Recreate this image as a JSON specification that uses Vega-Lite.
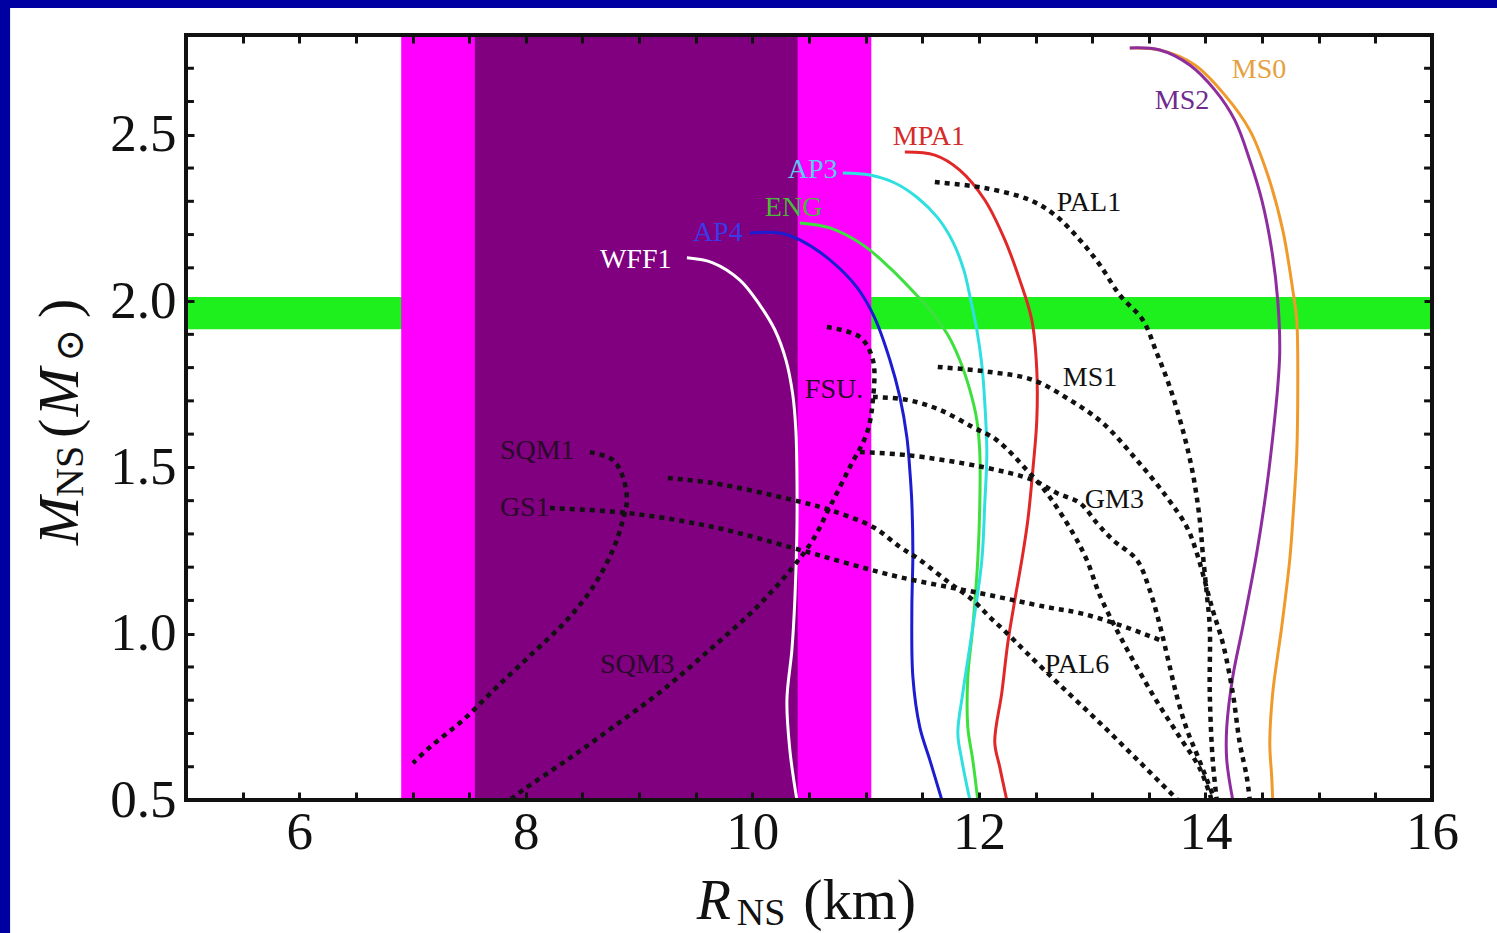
{
  "$schema": "https://vega.github.io/schema/vega-lite/v6.json",
  "width": 1246,
  "height": 765,
  "autosize": {"type": "none"},
  "padding": {"left": 186, "top": 35, "right": 65, "bottom": 133},
  "background": "#ffffff",
  "config": {
    "view": {"stroke": null},
    "axis": {"domain": false, "ticks": false, "grid": true, "gridColor": "#111111", "gridWidth": 3, "gridOpacity": 1, "labelFont": "Liberation Serif", "labelFontSize": 53, "labelColor": "#111111", "labelOverlap": false, "labelFlush": false, "labelBound": false},
    "text": {"font": "Liberation Serif"}
  },
  "resolve": {"scale": {"color": "independent"}},
  "datasets": {
    "border": [{"r1": 3.0, "r2": 3.447, "m1": 0.0, "m2": 3.0}, {"r1": 3.0, "r2": 16.8, "m1": 2.881, "m2": 3.0}],
    "frame": [{"r1": 5, "r2": 16, "m1": 0.5, "m2": 2.8}],
    "yminor": [{"m":0.6},{"m":0.7},{"m":0.8},{"m":0.9},{"m":1.1},{"m":1.2},{"m":1.3},{"m":1.4},{"m":1.6},{"m":1.7},{"m":1.8},{"m":1.9},{"m":2.1},{"m":2.2},{"m":2.3},{"m":2.4},{"m":2.6},{"m":2.7}],
    "massband": [{"lo": 1.915, "hi": 2.012}],
    "bands": [{"band": "outer", "lo": 6.9, "hi": 11.05}, {"band": "inner", "lo": 7.55, "hi": 10.4}],
    "curves": [
      {"eos":"WFF1","kind":"solid","i":0,"r":9.422,"m":2.130},{"eos":"WFF1","kind":"solid","i":1,"r":9.651,"m":2.115},{"eos":"WFF1","kind":"solid","i":2,"r":9.890,"m":2.063},{"eos":"WFF1","kind":"solid","i":3,"r":10.066,"m":1.988},{"eos":"WFF1","kind":"solid","i":4,"r":10.199,"m":1.913},{"eos":"WFF1","kind":"solid","i":5,"r":10.296,"m":1.823},{"eos":"WFF1","kind":"solid","i":6,"r":10.357,"m":1.718},{"eos":"WFF1","kind":"solid","i":7,"r":10.384,"m":1.612},{"eos":"WFF1","kind":"solid","i":8,"r":10.393,"m":1.492},{"eos":"WFF1","kind":"solid","i":9,"r":10.393,"m":1.303},{"eos":"WFF1","kind":"solid","i":10,"r":10.375,"m":1.101},{"eos":"WFF1","kind":"solid","i":11,"r":10.349,"m":0.951},{"eos":"WFF1","kind":"solid","i":12,"r":10.305,"m":0.801},{"eos":"WFF1","kind":"solid","i":13,"r":10.331,"m":0.650},{"eos":"WFF1","kind":"solid","i":14,"r":10.393,"m":0.5},
      {"eos":"AP4","kind":"solid","i":0,"r":9.978,"m":2.205},{"eos":"AP4","kind":"solid","i":1,"r":10.243,"m":2.205},{"eos":"AP4","kind":"solid","i":2,"r":10.419,"m":2.184},{"eos":"AP4","kind":"solid","i":3,"r":10.684,"m":2.124},{"eos":"AP4","kind":"solid","i":4,"r":10.922,"m":2.042},{"eos":"AP4","kind":"solid","i":5,"r":11.081,"m":1.949},{"eos":"AP4","kind":"solid","i":6,"r":11.214,"m":1.823},{"eos":"AP4","kind":"solid","i":7,"r":11.302,"m":1.712},{"eos":"AP4","kind":"solid","i":8,"r":11.364,"m":1.591},{"eos":"AP4","kind":"solid","i":9,"r":11.390,"m":1.492},{"eos":"AP4","kind":"solid","i":10,"r":11.408,"m":1.393},{"eos":"AP4","kind":"solid","i":11,"r":11.417,"m":1.243},{"eos":"AP4","kind":"solid","i":12,"r":11.408,"m":1.071},{"eos":"AP4","kind":"solid","i":13,"r":11.417,"m":0.870},{"eos":"AP4","kind":"solid","i":14,"r":11.478,"m":0.719},{"eos":"AP4","kind":"solid","i":15,"r":11.567,"m":0.620},{"eos":"AP4","kind":"solid","i":16,"r":11.673,"m":0.5},
      {"eos":"ENG","kind":"solid","i":0,"r":10.419,"m":2.235},{"eos":"ENG","kind":"solid","i":1,"r":10.684,"m":2.220},{"eos":"ENG","kind":"solid","i":2,"r":10.975,"m":2.169},{"eos":"ENG","kind":"solid","i":3,"r":11.214,"m":2.100},{"eos":"ENG","kind":"solid","i":4,"r":11.408,"m":2.033},{"eos":"ENG","kind":"solid","i":5,"r":11.584,"m":1.967},{"eos":"ENG","kind":"solid","i":6,"r":11.726,"m":1.898},{"eos":"ENG","kind":"solid","i":7,"r":11.831,"m":1.823},{"eos":"ENG","kind":"solid","i":8,"r":11.920,"m":1.733},{"eos":"ENG","kind":"solid","i":9,"r":11.982,"m":1.642},{"eos":"ENG","kind":"solid","i":10,"r":12.008,"m":1.543},{"eos":"ENG","kind":"solid","i":11,"r":12.008,"m":1.393},{"eos":"ENG","kind":"solid","i":12,"r":11.990,"m":1.222},{"eos":"ENG","kind":"solid","i":13,"r":11.946,"m":1.020},{"eos":"ENG","kind":"solid","i":14,"r":11.902,"m":0.870},{"eos":"ENG","kind":"solid","i":15,"r":11.902,"m":0.719},{"eos":"ENG","kind":"solid","i":16,"r":11.946,"m":0.620},{"eos":"ENG","kind":"solid","i":17,"r":11.990,"m":0.5},
      {"eos":"AP3","kind":"solid","i":0,"r":10.799,"m":2.385},{"eos":"AP3","kind":"solid","i":1,"r":11.037,"m":2.379},{"eos":"AP3","kind":"solid","i":2,"r":11.258,"m":2.355},{"eos":"AP3","kind":"solid","i":3,"r":11.461,"m":2.310},{"eos":"AP3","kind":"solid","i":4,"r":11.637,"m":2.250},{"eos":"AP3","kind":"solid","i":5,"r":11.770,"m":2.178},{"eos":"AP3","kind":"solid","i":6,"r":11.867,"m":2.093},{"eos":"AP3","kind":"solid","i":7,"r":11.928,"m":2.003},{"eos":"AP3","kind":"solid","i":8,"r":11.982,"m":1.913},{"eos":"AP3","kind":"solid","i":9,"r":12.026,"m":1.808},{"eos":"AP3","kind":"solid","i":10,"r":12.052,"m":1.694},{"eos":"AP3","kind":"solid","i":11,"r":12.070,"m":1.543},{"eos":"AP3","kind":"solid","i":12,"r":12.052,"m":1.393},{"eos":"AP3","kind":"solid","i":13,"r":12.026,"m":1.222},{"eos":"AP3","kind":"solid","i":14,"r":11.946,"m":1.020},{"eos":"AP3","kind":"solid","i":15,"r":11.858,"m":0.822},{"eos":"AP3","kind":"solid","i":16,"r":11.814,"m":0.701},{"eos":"AP3","kind":"solid","i":17,"r":11.849,"m":0.620},{"eos":"AP3","kind":"solid","i":18,"r":11.920,"m":0.5},
      {"eos":"MPA1","kind":"solid","i":0,"r":11.346,"m":2.448},{"eos":"MPA1","kind":"solid","i":1,"r":11.611,"m":2.439},{"eos":"MPA1","kind":"solid","i":2,"r":11.831,"m":2.394},{"eos":"MPA1","kind":"solid","i":3,"r":12.052,"m":2.304},{"eos":"MPA1","kind":"solid","i":4,"r":12.229,"m":2.184},{"eos":"MPA1","kind":"solid","i":5,"r":12.361,"m":2.063},{"eos":"MPA1","kind":"solid","i":6,"r":12.467,"m":1.943},{"eos":"MPA1","kind":"solid","i":7,"r":12.511,"m":1.793},{"eos":"MPA1","kind":"solid","i":8,"r":12.511,"m":1.642},{"eos":"MPA1","kind":"solid","i":9,"r":12.476,"m":1.492},{"eos":"MPA1","kind":"solid","i":10,"r":12.432,"m":1.342},{"eos":"MPA1","kind":"solid","i":11,"r":12.379,"m":1.222},{"eos":"MPA1","kind":"solid","i":12,"r":12.317,"m":1.101},{"eos":"MPA1","kind":"solid","i":13,"r":12.255,"m":0.972},{"eos":"MPA1","kind":"solid","i":14,"r":12.202,"m":0.822},{"eos":"MPA1","kind":"solid","i":15,"r":12.140,"m":0.674},{"eos":"MPA1","kind":"solid","i":16,"r":12.184,"m":0.599},{"eos":"MPA1","kind":"solid","i":17,"r":12.246,"m":0.5},
      {"eos":"MS0","kind":"solid","i":0,"r":13.332,"m":2.761},{"eos":"MS0","kind":"solid","i":1,"r":13.597,"m":2.755},{"eos":"MS0","kind":"solid","i":2,"r":13.906,"m":2.710},{"eos":"MS0","kind":"solid","i":3,"r":14.170,"m":2.620},{"eos":"MS0","kind":"solid","i":4,"r":14.391,"m":2.514},{"eos":"MS0","kind":"solid","i":5,"r":14.550,"m":2.379},{"eos":"MS0","kind":"solid","i":6,"r":14.682,"m":2.214},{"eos":"MS0","kind":"solid","i":7,"r":14.771,"m":2.033},{"eos":"MS0","kind":"solid","i":8,"r":14.806,"m":1.943},{"eos":"MS0","kind":"solid","i":9,"r":14.815,"m":1.742},{"eos":"MS0","kind":"solid","i":10,"r":14.806,"m":1.543},{"eos":"MS0","kind":"solid","i":11,"r":14.771,"m":1.342},{"eos":"MS0","kind":"solid","i":12,"r":14.744,"m":1.222},{"eos":"MS0","kind":"solid","i":13,"r":14.673,"m":1.020},{"eos":"MS0","kind":"solid","i":14,"r":14.594,"m":0.822},{"eos":"MS0","kind":"solid","i":15,"r":14.568,"m":0.671},{"eos":"MS0","kind":"solid","i":16,"r":14.585,"m":0.569},{"eos":"MS0","kind":"solid","i":17,"r":14.594,"m":0.5},
      {"eos":"MS2","kind":"solid","i":0,"r":13.332,"m":2.761},{"eos":"MS2","kind":"solid","i":1,"r":13.597,"m":2.755},{"eos":"MS2","kind":"solid","i":2,"r":13.861,"m":2.710},{"eos":"MS2","kind":"solid","i":3,"r":14.082,"m":2.635},{"eos":"MS2","kind":"solid","i":4,"r":14.259,"m":2.544},{"eos":"MS2","kind":"solid","i":5,"r":14.391,"m":2.424},{"eos":"MS2","kind":"solid","i":6,"r":14.497,"m":2.304},{"eos":"MS2","kind":"solid","i":7,"r":14.585,"m":2.154},{"eos":"MS2","kind":"solid","i":8,"r":14.638,"m":2.003},{"eos":"MS2","kind":"solid","i":9,"r":14.656,"m":1.853},{"eos":"MS2","kind":"solid","i":10,"r":14.638,"m":1.742},{"eos":"MS2","kind":"solid","i":11,"r":14.594,"m":1.591},{"eos":"MS2","kind":"solid","i":12,"r":14.541,"m":1.441},{"eos":"MS2","kind":"solid","i":13,"r":14.453,"m":1.243},{"eos":"MS2","kind":"solid","i":14,"r":14.329,"m":1.020},{"eos":"MS2","kind":"solid","i":15,"r":14.241,"m":0.870},{"eos":"MS2","kind":"solid","i":16,"r":14.188,"m":0.719},{"eos":"MS2","kind":"solid","i":17,"r":14.188,"m":0.620},{"eos":"MS2","kind":"solid","i":18,"r":14.241,"m":0.5},
      {"eos":"PAL1","kind":"dotted","i":0,"r":11.611,"m":2.358},{"eos":"PAL1","kind":"dotted","i":1,"r":12.052,"m":2.340},{"eos":"PAL1","kind":"dotted","i":2,"r":12.449,"m":2.304},{"eos":"PAL1","kind":"dotted","i":3,"r":12.670,"m":2.259},{"eos":"PAL1","kind":"dotted","i":4,"r":12.891,"m":2.184},{"eos":"PAL1","kind":"dotted","i":5,"r":13.067,"m":2.109},{"eos":"PAL1","kind":"dotted","i":6,"r":13.244,"m":2.018},{"eos":"PAL1","kind":"dotted","i":7,"r":13.447,"m":1.943},{"eos":"PAL1","kind":"dotted","i":8,"r":13.570,"m":1.844},{"eos":"PAL1","kind":"dotted","i":9,"r":13.685,"m":1.742},{"eos":"PAL1","kind":"dotted","i":10,"r":13.800,"m":1.612},{"eos":"PAL1","kind":"dotted","i":11,"r":13.888,"m":1.483},{"eos":"PAL1","kind":"dotted","i":12,"r":13.950,"m":1.342},{"eos":"PAL1","kind":"dotted","i":13,"r":13.976,"m":1.243},{"eos":"PAL1","kind":"dotted","i":14,"r":14.011,"m":1.122},{"eos":"PAL1","kind":"dotted","i":15,"r":14.038,"m":1.020},{"eos":"PAL1","kind":"dotted","i":16,"r":14.038,"m":0.822},{"eos":"PAL1","kind":"dotted","i":17,"r":14.064,"m":0.620},{"eos":"PAL1","kind":"dotted","i":18,"r":14.100,"m":0.5},
      {"eos":"MS1","kind":"dotted","i":0,"r":11.637,"m":1.802},{"eos":"MS1","kind":"dotted","i":1,"r":12.096,"m":1.787},{"eos":"MS1","kind":"dotted","i":2,"r":12.476,"m":1.763},{"eos":"MS1","kind":"dotted","i":3,"r":12.802,"m":1.703},{"eos":"MS1","kind":"dotted","i":4,"r":13.094,"m":1.633},{"eos":"MS1","kind":"dotted","i":5,"r":13.394,"m":1.522},{"eos":"MS1","kind":"dotted","i":6,"r":13.658,"m":1.411},{"eos":"MS1","kind":"dotted","i":7,"r":13.835,"m":1.321},{"eos":"MS1","kind":"dotted","i":8,"r":13.923,"m":1.243},{"eos":"MS1","kind":"dotted","i":9,"r":14.064,"m":1.071},{"eos":"MS1","kind":"dotted","i":10,"r":14.153,"m":0.972},{"eos":"MS1","kind":"dotted","i":11,"r":14.241,"m":0.822},{"eos":"MS1","kind":"dotted","i":12,"r":14.303,"m":0.671},{"eos":"MS1","kind":"dotted","i":13,"r":14.365,"m":0.569},{"eos":"MS1","kind":"dotted","i":14,"r":14.391,"m":0.5},
      {"eos":"FSU","kind":"dotted","i":0,"r":11.064,"m":1.712},{"eos":"FSU","kind":"dotted","i":1,"r":11.364,"m":1.703},{"eos":"FSU","kind":"dotted","i":2,"r":11.655,"m":1.673},{"eos":"FSU","kind":"dotted","i":3,"r":11.946,"m":1.621},{"eos":"FSU","kind":"dotted","i":4,"r":12.158,"m":1.582},{"eos":"FSU","kind":"dotted","i":5,"r":12.423,"m":1.492},{"eos":"FSU","kind":"dotted","i":6,"r":12.599,"m":1.423},{"eos":"FSU","kind":"dotted","i":7,"r":12.829,"m":1.303},{"eos":"FSU","kind":"dotted","i":8,"r":12.952,"m":1.222},{"eos":"FSU","kind":"dotted","i":9,"r":13.067,"m":1.116},{"eos":"FSU","kind":"dotted","i":10,"r":13.217,"m":1.011},{"eos":"FSU","kind":"dotted","i":11,"r":13.394,"m":0.900},{"eos":"FSU","kind":"dotted","i":12,"r":13.579,"m":0.792},{"eos":"FSU","kind":"dotted","i":13,"r":13.773,"m":0.689},{"eos":"FSU","kind":"dotted","i":14,"r":13.950,"m":0.595},{"eos":"FSU","kind":"dotted","i":15,"r":14.055,"m":0.5},
      {"eos":"GM3","kind":"dotted","i":0,"r":10.949,"m":1.546},{"eos":"GM3","kind":"dotted","i":1,"r":11.364,"m":1.537},{"eos":"GM3","kind":"dotted","i":2,"r":12.034,"m":1.501},{"eos":"GM3","kind":"dotted","i":3,"r":12.476,"m":1.462},{"eos":"GM3","kind":"dotted","i":4,"r":12.688,"m":1.423},{"eos":"GM3","kind":"dotted","i":5,"r":12.891,"m":1.393},{"eos":"GM3","kind":"dotted","i":6,"r":13.041,"m":1.333},{"eos":"GM3","kind":"dotted","i":7,"r":13.182,"m":1.282},{"eos":"GM3","kind":"dotted","i":8,"r":13.394,"m":1.222},{"eos":"GM3","kind":"dotted","i":9,"r":13.508,"m":1.131},{"eos":"GM3","kind":"dotted","i":10,"r":13.597,"m":1.026},{"eos":"GM3","kind":"dotted","i":11,"r":13.671,"m":0.921},{"eos":"GM3","kind":"dotted","i":12,"r":13.749,"m":0.810},{"eos":"GM3","kind":"dotted","i":13,"r":13.838,"m":0.710},{"eos":"GM3","kind":"dotted","i":14,"r":13.938,"m":0.626},{"eos":"GM3","kind":"dotted","i":15,"r":14.082,"m":0.5},
      {"eos":"GS1","kind":"dotted","i":0,"r":8.213,"m":1.378},{"eos":"GS1","kind":"dotted","i":1,"r":8.892,"m":1.363},{"eos":"GS1","kind":"dotted","i":2,"r":9.651,"m":1.321},{"eos":"GS1","kind":"dotted","i":3,"r":10.357,"m":1.258},{"eos":"GS1","kind":"dotted","i":4,"r":10.834,"m":1.212},{"eos":"GS1","kind":"dotted","i":5,"r":11.302,"m":1.170},{"eos":"GS1","kind":"dotted","i":6,"r":12.008,"m":1.122},{"eos":"GS1","kind":"dotted","i":7,"r":12.599,"m":1.080},{"eos":"GS1","kind":"dotted","i":8,"r":12.891,"m":1.062},{"eos":"GS1","kind":"dotted","i":9,"r":13.244,"m":1.026},{"eos":"GS1","kind":"dotted","i":10,"r":13.597,"m":0.981},
      {"eos":"PAL6","kind":"dotted","i":0,"r":9.254,"m":1.468},{"eos":"PAL6","kind":"dotted","i":1,"r":9.651,"m":1.453},{"eos":"PAL6","kind":"dotted","i":2,"r":10.357,"m":1.402},{"eos":"PAL6","kind":"dotted","i":3,"r":10.684,"m":1.372},{"eos":"PAL6","kind":"dotted","i":4,"r":11.064,"m":1.321},{"eos":"PAL6","kind":"dotted","i":5,"r":11.302,"m":1.261},{"eos":"PAL6","kind":"dotted","i":6,"r":11.478,"m":1.222},{"eos":"PAL6","kind":"dotted","i":7,"r":11.743,"m":1.152},{"eos":"PAL6","kind":"dotted","i":8,"r":11.946,"m":1.101},{"eos":"PAL6","kind":"dotted","i":9,"r":12.096,"m":1.050},{"eos":"PAL6","kind":"dotted","i":10,"r":12.246,"m":1.002},{"eos":"PAL6","kind":"dotted","i":11,"r":12.423,"m":0.942},{"eos":"PAL6","kind":"dotted","i":12,"r":12.714,"m":0.846},{"eos":"PAL6","kind":"dotted","i":13,"r":13.067,"m":0.732},{"eos":"PAL6","kind":"dotted","i":14,"r":13.420,"m":0.614},{"eos":"PAL6","kind":"dotted","i":15,"r":13.755,"m":0.5},
      {"eos":"SQM1","kind":"dotted","i":0,"r":8.566,"m":1.546},{"eos":"SQM1","kind":"dotted","i":1,"r":8.769,"m":1.522},{"eos":"SQM1","kind":"dotted","i":2,"r":8.857,"m":1.471},{"eos":"SQM1","kind":"dotted","i":3,"r":8.892,"m":1.402},{"eos":"SQM1","kind":"dotted","i":4,"r":8.857,"m":1.342},{"eos":"SQM1","kind":"dotted","i":5,"r":8.769,"m":1.252},{"eos":"SQM1","kind":"dotted","i":6,"r":8.592,"m":1.140},{"eos":"SQM1","kind":"dotted","i":7,"r":8.363,"m":1.041},{"eos":"SQM1","kind":"dotted","i":8,"r":8.063,"m":0.942},{"eos":"SQM1","kind":"dotted","i":9,"r":7.745,"m":0.840},{"eos":"SQM1","kind":"dotted","i":10,"r":7.445,"m":0.740},{"eos":"SQM1","kind":"dotted","i":11,"r":7.154,"m":0.659},{"eos":"SQM1","kind":"dotted","i":12,"r":7.004,"m":0.611},
      {"eos":"SQM3","kind":"dotted","i":0,"r":10.658,"m":1.922},{"eos":"SQM3","kind":"dotted","i":1,"r":10.949,"m":1.892},{"eos":"SQM3","kind":"dotted","i":2,"r":11.064,"m":1.823},{"eos":"SQM3","kind":"dotted","i":3,"r":11.064,"m":1.703},{"eos":"SQM3","kind":"dotted","i":4,"r":11.011,"m":1.603},{"eos":"SQM3","kind":"dotted","i":5,"r":10.861,"m":1.501},{"eos":"SQM3","kind":"dotted","i":6,"r":10.684,"m":1.381},{"eos":"SQM3","kind":"dotted","i":7,"r":10.534,"m":1.282},{"eos":"SQM3","kind":"dotted","i":8,"r":10.357,"m":1.200},{"eos":"SQM3","kind":"dotted","i":9,"r":10.040,"m":1.080},{"eos":"SQM3","kind":"dotted","i":10,"r":9.651,"m":0.960},{"eos":"SQM3","kind":"dotted","i":11,"r":9.210,"m":0.831},{"eos":"SQM3","kind":"dotted","i":12,"r":8.769,"m":0.719},{"eos":"SQM3","kind":"dotted","i":13,"r":8.363,"m":0.620},{"eos":"SQM3","kind":"dotted","i":14,"r":7.974,"m":0.530},{"eos":"SQM3","kind":"dotted","i":15,"r":7.860,"m":0.5}
    ],
    "labels": [
      {"name":"WFF1","r":8.654,"m":2.124},{"name":"AP4","r":9.475,"m":2.205},{"name":"ENG","r":10.110,"m":2.280},{"name":"AP3","r":10.313,"m":2.394},{"name":"MPA1","r":11.240,"m":2.493},{"name":"MS2","r":13.553,"m":2.602},{"name":"MS0","r":14.232,"m":2.695},{"name":"PAL1","r":12.688,"m":2.295},{"name":"MS1","r":12.741,"m":1.769},{"name":"FSU.","r":10.463,"m":1.733},{"name":"SQM1","r":7.771,"m":1.549},{"name":"GS1","r":7.771,"m":1.378},{"name":"GM3","r":12.935,"m":1.402},{"name":"PAL6","r":12.582,"m":0.906},{"name":"SQM3","r":8.654,"m":0.906}
    ],
    "titles": [
      {"t":"R","axis":"x","part":"ital","r":9.510,"m":0.142},{"t":"NS","axis":"x","part":"sub","r":9.863,"m":0.124},{"t":"(km)","axis":"x","part":"up","r":10.45,"m":0.142},
      {"t":"M","axis":"y","part":"ital","r":4.047,"m":1.267},{"t":"NS","axis":"y","part":"sub","r":4.091,"m":1.411},{"t":"(","axis":"y","part":"up","r":4.047,"m":1.588},{"t":"M","axis":"y","part":"ital","r":4.047,"m":1.654},{"t":"⊙","axis":"y","part":"sub","r":4.091,"m":1.817},{"t":")","axis":"y","part":"up","r":4.047,"m":1.949}
    ]
  },
  "layer": [
    {
      "data": {"name": "massband"},
      "mark": {"type": "rect", "fill": "#1ef01e"},
      "encoding": {
        "y": {"field": "lo", "type": "quantitative", "scale": {"domain": [0.5, 2.8], "nice": false, "zero": false}},
        "y2": {"field": "hi"}
      }
    },
    {
      "data": {"name": "bands"},
      "transform": [{"filter": "datum.band == 'outer'"}],
      "mark": {"type": "rect", "fill": "#ff00ff"},
      "encoding": {
        "x": {"field": "lo", "type": "quantitative", "scale": {"domain": [5, 16], "nice": false, "zero": false}},
        "x2": {"field": "hi"}
      }
    },
    {
      "data": {"name": "bands"},
      "transform": [{"filter": "datum.band == 'inner'"}],
      "mark": {"type": "rect", "fill": "#800080"},
      "encoding": {
        "x": {"field": "lo", "type": "quantitative", "scale": {"domain": [5, 16], "nice": false, "zero": false}},
        "x2": {"field": "hi"}
      }
    },
    {
      "data": {"name": "border"},
      "mark": {"type": "rect", "fill": "#0000a2"},
      "encoding": {
        "x": {"field": "r1", "type": "quantitative", "scale": {"domain": [5, 16], "nice": false, "zero": false}},
        "x2": {"field": "r2"},
        "y": {"field": "m1", "type": "quantitative", "scale": {"domain": [0.5, 2.8], "nice": false, "zero": false}},
        "y2": {"field": "m2"}
      }
    },
    {
      "data": {"name": "yminor"},
      "mark": {"type": "rule", "color": "#111111", "strokeWidth": 3},
      "encoding": {
        "x": {"datum": 5, "type": "quantitative", "scale": {"domain": [5, 16], "nice": false, "zero": false}},
        "x2": {"datum": 5.07},
        "y": {"field": "m", "type": "quantitative", "scale": {"domain": [0.5, 2.8], "nice": false, "zero": false}}
      }
    },
    {
      "data": {"name": "yminor"},
      "mark": {"type": "rule", "color": "#111111", "strokeWidth": 3},
      "encoding": {
        "x": {"datum": 15.93, "type": "quantitative", "scale": {"domain": [5, 16], "nice": false, "zero": false}},
        "x2": {"datum": 16},
        "y": {"field": "m", "type": "quantitative", "scale": {"domain": [0.5, 2.8], "nice": false, "zero": false}}
      }
    },
    {
      "data": {"name": "curves"},
      "transform": [{"filter": "datum.kind == 'solid'"}],
      "mark": {"type": "line", "strokeWidth": 3, "interpolate": "catmull-rom"},
      "encoding": {
        "x": {"field": "r", "type": "quantitative", "scale": {"domain": [5, 16], "nice": false, "zero": false},
          "axis": {"orient": "bottom", "title": null, "zindex": 1, "labelOverlap": false, "values": [5.5,6,6.5,7,7.5,8,8.5,9,9.5,10,10.5,11,11.5,12,12.5,13,13.5,14,14.5,15,15.5,16], "labelExpr": "datum.value % 2 == 0 ? format(datum.value, 'd') : ''", "labelPadding": 6, "gridDash": [8, 749, 8]}},
        "y": {"field": "m", "type": "quantitative", "scale": {"domain": [0.5, 2.8], "nice": false, "zero": false},
          "axis": {"orient": "left", "title": null, "zindex": 1, "labelOverlap": false, "values": [0.5, 1, 1.5, 2, 2.5], "format": ".1f", "labelPadding": 10, "gridDash": [8, 1230, 8]}},
        "color": {"field": "eos", "type": "nominal", "legend": null,
          "scale": {"domain": ["WFF1","AP4","ENG","AP3","MPA1","MS0","MS2"], "range": ["#ffffff","#1c1cd0","#3ee03e","#30e0e0","#e02828","#f09a2c","#8e2e9e"]}},
        "order": {"field": "i", "type": "quantitative"}
      }
    },
    {
      "data": {"name": "curves"},
      "transform": [{"filter": "datum.kind == 'dotted'"}],
      "mark": {"type": "line", "strokeWidth": 4.5, "strokeDash": [5, 5], "color": "#111111", "interpolate": "catmull-rom"},
      "encoding": {
        "x": {"field": "r", "type": "quantitative", "scale": {"domain": [5, 16], "nice": false, "zero": false}},
        "y": {"field": "m", "type": "quantitative", "scale": {"domain": [0.5, 2.8], "nice": false, "zero": false}},
        "detail": {"field": "eos"},
        "order": {"field": "i", "type": "quantitative"}
      }
    },
    {
      "data": {"name": "frame"},
      "mark": {"type": "rect", "fillOpacity": 0, "stroke": "#111111", "strokeWidth": 4},
      "encoding": {
        "x": {"field": "r1", "type": "quantitative", "scale": {"domain": [5, 16], "nice": false, "zero": false}},
        "x2": {"field": "r2"},
        "y": {"field": "m1", "type": "quantitative", "scale": {"domain": [0.5, 2.8], "nice": false, "zero": false}},
        "y2": {"field": "m2"}
      }
    },
    {
      "data": {"name": "labels"},
      "mark": {"type": "text", "align": "left", "baseline": "middle", "fontSize": 28, "font": "Liberation Serif"},
      "encoding": {
        "x": {"field": "r", "type": "quantitative", "scale": {"domain": [5, 16], "nice": false, "zero": false}},
        "y": {"field": "m", "type": "quantitative", "scale": {"domain": [0.5, 2.8], "nice": false, "zero": false}},
        "text": {"field": "name"},
        "color": {"field": "name", "type": "nominal", "legend": null,
          "scale": {"domain": ["WFF1","AP4","ENG","AP3","MPA1","MS2","MS0","PAL1","MS1","FSU.","SQM1","GS1","GM3","PAL6","SQM3"],
                    "range": ["#ffffff","#3a3ae8","#4cb83a","#5ec8f4","#d42a2a","#6e2a8e","#e6a040","#111111","#111111","#2a0a2a","#2a0a2a","#2a0a2a","#111111","#111111","#2a0a2a"]}}
      }
    },
    {
      "data": {"name": "titles"},
      "transform": [{"filter": "datum.axis == 'x' && datum.part == 'ital'"}],
      "mark": {"type": "text", "align": "left", "baseline": "alphabetic", "fontSize": 56, "fontStyle": "italic", "font": "Liberation Serif", "color": "#111111"},
      "encoding": {
        "x": {"field": "r", "type": "quantitative", "scale": {"domain": [5, 16], "nice": false, "zero": false}},
        "y": {"field": "m", "type": "quantitative", "scale": {"domain": [0.5, 2.8], "nice": false, "zero": false}},
        "text": {"field": "t"}
      }
    },
    {
      "data": {"name": "titles"},
      "transform": [{"filter": "datum.axis == 'x' && datum.part == 'sub'"}],
      "mark": {"type": "text", "align": "left", "baseline": "alphabetic", "fontSize": 38, "font": "Liberation Serif", "color": "#111111"},
      "encoding": {
        "x": {"field": "r", "type": "quantitative", "scale": {"domain": [5, 16], "nice": false, "zero": false}},
        "y": {"field": "m", "type": "quantitative", "scale": {"domain": [0.5, 2.8], "nice": false, "zero": false}},
        "text": {"field": "t"}
      }
    },
    {
      "data": {"name": "titles"},
      "transform": [{"filter": "datum.axis == 'x' && datum.part == 'up'"}],
      "mark": {"type": "text", "align": "left", "baseline": "alphabetic", "fontSize": 58, "font": "Liberation Serif", "color": "#111111"},
      "encoding": {
        "x": {"field": "r", "type": "quantitative", "scale": {"domain": [5, 16], "nice": false, "zero": false}},
        "y": {"field": "m", "type": "quantitative", "scale": {"domain": [0.5, 2.8], "nice": false, "zero": false}},
        "text": {"field": "t"}
      }
    },
    {
      "data": {"name": "titles"},
      "transform": [{"filter": "datum.axis == 'y' && datum.part == 'ital'"}],
      "mark": {"type": "text", "align": "left", "baseline": "alphabetic", "angle": 270, "fontSize": 58, "fontStyle": "italic", "font": "Liberation Serif", "color": "#111111"},
      "encoding": {
        "x": {"field": "r", "type": "quantitative", "scale": {"domain": [5, 16], "nice": false, "zero": false}},
        "y": {"field": "m", "type": "quantitative", "scale": {"domain": [0.5, 2.8], "nice": false, "zero": false}},
        "text": {"field": "t"}
      }
    },
    {
      "data": {"name": "titles"},
      "transform": [{"filter": "datum.axis == 'y' && datum.part == 'sub'"}],
      "mark": {"type": "text", "align": "left", "baseline": "alphabetic", "angle": 270, "fontSize": 40, "font": "Liberation Serif, DejaVu Serif", "color": "#111111"},
      "encoding": {
        "x": {"field": "r", "type": "quantitative", "scale": {"domain": [5, 16], "nice": false, "zero": false}},
        "y": {"field": "m", "type": "quantitative", "scale": {"domain": [0.5, 2.8], "nice": false, "zero": false}},
        "text": {"field": "t"}
      }
    },
    {
      "data": {"name": "titles"},
      "transform": [{"filter": "datum.axis == 'y' && datum.part == 'up'"}],
      "mark": {"type": "text", "align": "left", "baseline": "alphabetic", "angle": 270, "fontSize": 58, "font": "Liberation Serif", "color": "#111111"},
      "encoding": {
        "x": {"field": "r", "type": "quantitative", "scale": {"domain": [5, 16], "nice": false, "zero": false}},
        "y": {"field": "m", "type": "quantitative", "scale": {"domain": [0.5, 2.8], "nice": false, "zero": false}},
        "text": {"field": "t"}
      }
    }
  ]
}
